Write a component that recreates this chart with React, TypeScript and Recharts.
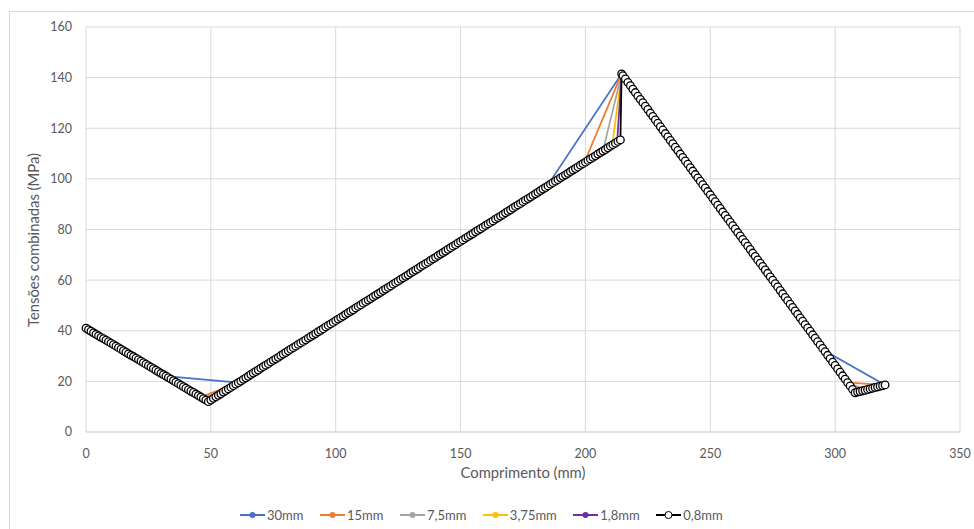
import { FC } from 'react';
import { LineChart, Line, XAxis, YAxis, CartesianGrid } from 'recharts';

// comprimento (mm) e tensões combinadas (MPa) por discretização
const x30 = [0, 32, 61, 92, 123, 154, 184.5, 214.5, 241.5, 268.5, 295.5, 320];
const y30 = [41.0, 22.1, 19.5, 38.9, 58.4, 77.8, 96.9, 141.5, 105.1, 68.7, 32.3, 18.6];

const x15 = [0, 15.5, 31, 46, 61, 76.4, 91.8, 107.2, 122.6, 138, 153.4, 168.8, 184.2, 199.5, 214.5, 229.6, 244.7, 259.8, 274.8, 289.9, 305, 320];
const y15 = [41.0, 31.8, 22.7, 13.8, 19.5, 29.2, 38.8, 48.5, 58.1, 67.8, 77.4, 87.1, 96.7, 106.3, 141.5, 121.2, 100.8, 80.5, 60.2, 39.9, 19.5, 18.6];

const x75 = [0, 7.6, 15.3, 22.9, 30.5, 38.1, 45.8, 53.4, 61, 68.7, 76.4, 84.1, 91.8, 99.5, 107.2, 114.9, 122.6, 130.3, 138, 145.7, 153.4, 161.1, 168.8, 176.5, 184.2, 191.9, 199.5, 207, 214.5, 222, 229.6, 237.1, 244.7, 252.2, 259.8, 267.3, 274.8, 282.3, 289.9, 297.4, 305, 312.5, 320];
const y75 = [41.0, 36.5, 31.9, 27.4, 22.9, 18.5, 13.9, 14.8, 19.5, 24.3, 29.2, 34.0, 38.8, 43.6, 48.5, 53.3, 58.1, 63.0, 67.8, 72.6, 77.4, 82.3, 87.1, 91.9, 96.7, 101.6, 106.3, 111.0, 141.5, 131.4, 121.2, 111.0, 100.8, 90.7, 80.5, 70.3, 60.2, 50.1, 39.9, 29.8, 19.5, 16.7, 18.6];

const x375 = [0, 7.6, 15.3, 22.9, 30.5, 38.1, 45.8, 49.75, 53.4, 57.25, 61, 68.7, 76.4, 84.1, 91.8, 99.5, 107.2, 114.9, 122.6, 130.3, 138, 145.7, 153.4, 161.1, 168.8, 176.5, 184.2, 191.9, 199.5, 203.3, 207, 210.75, 214.5, 222, 229.6, 237.1, 244.7, 252.2, 259.8, 267.3, 274.8, 282.3, 289.9, 297.4, 301.2, 305, 308.75, 312.5, 316.25, 320];
const y375 = [41.0, 36.5, 31.9, 27.4, 22.9, 18.5, 13.9, 12.5, 14.8, 17.2, 19.5, 24.3, 29.2, 34.0, 38.8, 43.6, 48.5, 53.3, 58.1, 63.0, 67.8, 72.6, 77.4, 82.3, 87.1, 91.9, 96.7, 101.6, 106.3, 108.7, 111.0, 113.4, 141.5, 131.4, 121.2, 111.0, 100.8, 90.7, 80.5, 70.3, 60.2, 50.1, 39.9, 29.8, 24.7, 19.5, 15.7, 16.7, 17.6, 18.6];

const x18 = [0, 7.6, 15.3, 22.9, 30.5, 38.1, 45.8, 47.6, 49.4, 51.2, 53.4, 57.25, 61, 68.7, 76.4, 84.1, 91.8, 99.5, 107.2, 114.9, 122.6, 130.3, 138, 145.7, 153.4, 161.1, 168.8, 176.5, 184.2, 191.9, 199.5, 203.3, 207, 209.1, 210.9, 212.7, 214.5, 222, 229.6, 237.1, 244.7, 252.2, 259.8, 267.3, 274.8, 282.3, 289.9, 297.4, 301.2, 305, 306.8, 308.6, 310.4, 312.5, 316.25, 320];
const y18 = [41.0, 36.5, 31.9, 27.4, 22.9, 18.5, 13.9, 12.8, 12.3, 13.4, 14.8, 17.2, 19.5, 24.3, 29.2, 34.0, 38.8, 43.6, 48.5, 53.3, 58.1, 63.0, 67.8, 72.6, 77.4, 82.3, 87.1, 91.9, 96.7, 101.6, 106.3, 108.7, 111.0, 112.3, 113.5, 114.6, 141.5, 131.4, 121.2, 111.0, 100.8, 90.7, 80.5, 70.3, 60.2, 50.1, 39.9, 29.8, 24.7, 19.5, 17.1, 15.7, 16.1, 16.7, 17.6, 18.6];

const x08 = [
	0, 1, 2, 3, 4, 5, 6, 7, 8, 9, 10, 11, 12, 13, 14, 15, 16, 17, 18, 19,
	20, 21, 22, 23, 24, 25, 26, 27, 28, 29, 30, 31, 32, 33, 34, 35, 36, 37, 38, 39,
	40, 41, 42, 43, 44, 45, 46, 47, 48, 49, 50, 51, 52, 53, 54, 55, 56, 57, 58, 59,
	60, 61, 62, 63, 64, 65, 66, 67, 68, 69, 70, 71, 72, 73, 74, 75, 76, 77, 78, 79,
	80, 81, 82, 83, 84, 85, 86, 87, 88, 89, 90, 91, 92, 93, 94, 95, 96, 97, 98, 99,
	100, 101, 102, 103, 104, 105, 106, 107, 108, 109, 110, 111, 112, 113, 114, 115, 116, 117, 118, 119,
	120, 121, 122, 123, 124, 125, 126, 127, 128, 129, 130, 131, 132, 133, 134, 135, 136, 137, 138, 139,
	140, 141, 142, 143, 144, 145, 146, 147, 148, 149, 150, 151, 152, 153, 154, 155, 156, 157, 158, 159,
	160, 161, 162, 163, 164, 165, 166, 167, 168, 169, 170, 171, 172, 173, 174, 175, 176, 177, 178, 179,
	180, 181, 182, 183, 184, 185, 186, 187, 188, 189, 190, 191, 192, 193, 194, 195, 196, 197, 198, 199,
	200, 201, 202, 203, 204, 205, 206, 207, 208, 209, 210, 211, 212, 213, 214, 214.5,
	215, 216, 217, 218, 219, 220, 221, 222, 223, 224, 225, 226, 227, 228, 229,
	230, 231, 232, 233, 234, 235, 236, 237, 238, 239, 240, 241, 242, 243, 244, 245, 246, 247, 248, 249,
	250, 251, 252, 253, 254, 255, 256, 257, 258, 259, 260, 261, 262, 263, 264, 265, 266, 267, 268, 269,
	270, 271, 272, 273, 274, 275, 276, 277, 278, 279, 280, 281, 282, 283, 284, 285, 286, 287, 288, 289,
	290, 291, 292, 293, 294, 295, 296, 297, 298, 299, 300, 301, 302, 303, 304, 305, 306, 307, 308, 309,
	310, 311, 312, 313, 314, 315, 316, 317, 318, 319, 320,
];
const y08 = [
	41.0, 40.4, 39.8, 39.2, 38.6, 38.0, 37.4, 36.9, 36.3, 35.7, 35.1, 34.5, 33.9, 33.3, 32.7, 32.1, 31.5, 30.9, 30.3, 29.8,
	29.2, 28.6, 28.0, 27.4, 26.8, 26.2, 25.6, 25.0, 24.4, 23.8, 23.2, 22.7, 22.1, 21.5, 20.9, 20.3, 19.7, 19.1, 18.5, 17.9,
	17.3, 16.7, 16.1, 15.6, 15.0, 14.4, 13.8, 13.2, 12.6, 12.0, 12.6, 13.3, 13.9, 14.5, 15.1, 15.8, 16.4, 17.0, 17.6, 18.3,
	18.9, 19.5, 20.1, 20.8, 21.4, 22.0, 22.7, 23.3, 23.9, 24.5, 25.2, 25.8, 26.4, 27.0, 27.7, 28.3, 28.9, 29.5, 30.2, 30.8,
	31.4, 32.1, 32.7, 33.3, 33.9, 34.6, 35.2, 35.8, 36.4, 37.1, 37.7, 38.3, 38.9, 39.6, 40.2, 40.8, 41.5, 42.1, 42.7, 43.3,
	44.0, 44.6, 45.2, 45.8, 46.5, 47.1, 47.7, 48.3, 49.0, 49.6, 50.2, 50.9, 51.5, 52.1, 52.7, 53.4, 54.0, 54.6, 55.2, 55.9,
	56.5, 57.1, 57.7, 58.4, 59.0, 59.6, 60.3, 60.9, 61.5, 62.1, 62.8, 63.4, 64.0, 64.6, 65.3, 65.9, 66.5, 67.1, 67.8, 68.4,
	69.0, 69.7, 70.3, 70.9, 71.5, 72.2, 72.8, 73.4, 74.0, 74.7, 75.3, 75.9, 76.6, 77.2, 77.8, 78.4, 79.1, 79.7, 80.3, 80.9,
	81.6, 82.2, 82.8, 83.4, 84.1, 84.7, 85.3, 85.9, 86.6, 87.2, 87.8, 88.5, 89.1, 89.7, 90.3, 91.0, 91.6, 92.2, 92.8, 93.5,
	94.1, 94.7, 95.4, 96.0, 96.6, 97.2, 97.9, 98.5, 99.1, 99.7, 100.4, 101.0, 101.6, 102.2, 102.9, 103.5, 104.1, 104.7, 105.4, 106.0,
	106.6, 107.3, 107.9, 108.5, 109.1, 109.8, 110.4, 111.0, 111.6, 112.3, 112.9, 113.5, 114.1, 114.8, 115.4, 141.5,
	140.8, 139.5, 138.1, 136.8, 135.4, 134.1, 132.7, 131.4, 130.1, 128.7, 127.4, 126.0, 124.7, 123.3, 122.0,
	120.6, 119.3, 117.9, 116.6, 115.2, 113.9, 112.5, 111.2, 109.8, 108.5, 107.1, 105.8, 104.4, 103.1, 101.7, 100.4, 99.1, 97.7, 96.4, 95.0,
	93.7, 92.3, 91.0, 89.6, 88.3, 86.9, 85.6, 84.2, 82.9, 81.5, 80.2, 78.8, 77.5, 76.1, 74.8, 73.4, 72.1, 70.7, 69.4, 68.0,
	66.7, 65.4, 64.0, 62.7, 61.3, 60.0, 58.6, 57.3, 55.9, 54.6, 53.2, 51.9, 50.5, 49.2, 47.8, 46.5, 45.1, 43.8, 42.4, 41.1,
	39.8, 38.4, 37.1, 35.7, 34.4, 33.0, 31.7, 30.3, 29.0, 27.6, 26.3, 24.9, 23.6, 22.2, 20.9, 19.5, 18.2, 16.8, 15.5, 15.8,
	16.0, 16.3, 16.5, 16.8, 17.0, 17.3, 17.6, 17.8, 18.1, 18.3, 18.6,
];

const xTicks = [0, 50, 100, 150, 200, 250, 300, 350];
const yTicks = [0, 20, 40, 60, 80, 100, 120, 140, 160];

const series = [
	{ name: '30mm', color: '#4472C4', xs: x30, ys: y30 },
	{ name: '15mm', color: '#ED7D31', xs: x15, ys: y15 },
	{ name: '7,5mm', color: '#A5A5A5', xs: x75, ys: y75 },
	{ name: '3,75mm', color: '#FFC000', xs: x375, ys: y375 },
	{ name: '1,8mm', color: '#7030A0', xs: x18, ys: y18 },
	{ name: '0,8mm', color: '#000000', xs: x08, ys: y08 },
];

const toPoints = (xs: number[], ys: number[]) => xs.map((x, i) => ({ x, y: ys[i] }));

const FONT = 'Lato, "Open Sans", sans-serif';
const TXT = '#595959';

const YTitle = () => {
	const cx = 33;
	const cy = 240;
	return (
		<text
			x={cx}
			y={cy}
			transform={`rotate(-90, ${cx}, ${cy})`}
			textAnchor='middle'
			dominantBaseline='central'
			fill={TXT}
			fontSize={14.8}
			fontFamily={FONT}
		>
			Tensões combinadas (MPa)
		</text>
	);
};

const App: FC = () => {
	return (
		<div
			style={{
				position: 'absolute',
				left: 0,
				top: 0,
				width: 974,
				height: 529,
				overflow: 'hidden',
				background: '#fff',
				fontFamily: FONT,
			}}
		>
			<div
				style={{
					position: 'absolute',
					left: 9,
					top: 11,
					width: 1000,
					height: 560,
					border: '1px solid #D9D9D9',
				}}
			/>
			<div style={{ position: 'absolute', left: 0, top: 0 }}>
				<LineChart width={974} height={529} margin={{ top: 27, right: 14, left: 0, bottom: 47 }}>
					<CartesianGrid stroke='#D9D9D9' strokeWidth={1} />
					<XAxis
						type='number'
						dataKey='x'
						domain={[0, 350]}
						ticks={xTicks}
						height={50}
						tickLine={false}
						tickSize={6}
						tickMargin={11}
						axisLine={{ stroke: '#D9D9D9' }}
						tick={{ fill: TXT, fontSize: 12.5, fontFamily: FONT }}
						label={{
							value: 'Comprimento (mm)',
							position: 'insideBottom',
							offset: 4,
							fill: TXT,
							fontSize: 14.8,
							fontFamily: FONT,
						}}
					/>
					<YAxis
						type='number'
						dataKey='y'
						domain={[0, 160]}
						ticks={yTicks}
						width={86}
						tickLine={false}
						axisLine={false}
						tickSize={6}
						tickMargin={8}
						tick={{ fill: TXT, fontSize: 12.5, fontFamily: FONT }}
						label={<YTitle />}
					/>
					{series.map((s) => {
						const last = s.name === '0,8mm';
						return (
							<Line
								key={s.name}
								name={s.name}
								data={toPoints(s.xs, s.ys)}
								dataKey='y'
								type='linear'
								stroke={s.color}
								strokeWidth={1.75}
								isAnimationActive={false}
								activeDot={false}
								dot={
									last
										? { r: 3.8, fill: '#fff', stroke: '#000', strokeWidth: 1.3 }
										: { r: 2.5, fill: s.color, stroke: s.color, strokeWidth: 1 }
								}
							/>
						);
					})}
				</LineChart>
			</div>
			<div
				style={{
					position: 'absolute',
					left: 240,
					top: 506,
					display: 'flex',
					alignItems: 'center',
					fontSize: 13,
					color: TXT,
				}}
			>
				{series.map((s) => (
					<div key={s.name} style={{ display: 'flex', alignItems: 'center', marginRight: 16.5 }}>
						<svg width={25} height={18}>
							<line x1={0} y1={9} x2={25} y2={9} stroke={s.color} strokeWidth={2} />
							{s.name === '0,8mm' ? (
								<circle cx={12.5} cy={9} r={3.5} fill='#fff' stroke='#000' strokeWidth={1} />
							) : (
								<circle cx={12.5} cy={9} r={3} fill={s.color} />
							)}
						</svg>
						<span style={{ marginLeft: 2 }}>{s.name}</span>
					</div>
				))}
			</div>
		</div>
	);
};

export default App;
